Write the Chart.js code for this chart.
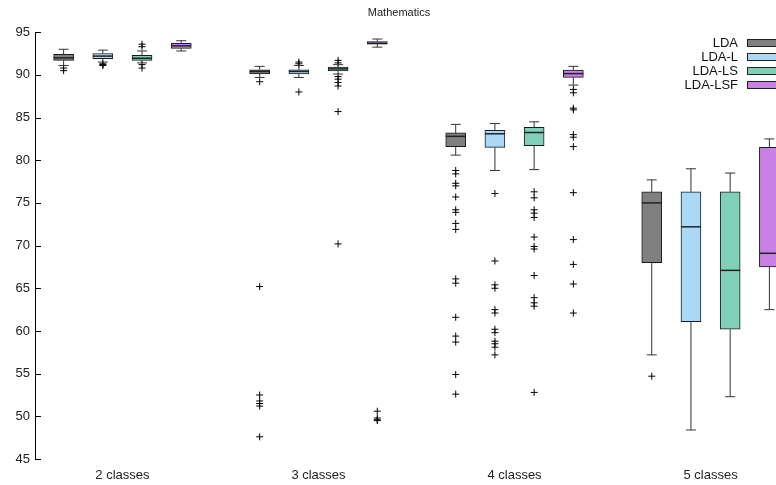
<!DOCTYPE html>
<html>
<head>
<meta charset="utf-8">
<script src="https://cdn.jsdelivr.net/npm/chart.js@4.4.1/dist/chart.umd.min.js"></script>
<style>
  html, body { margin: 0; padding: 0; background: #fff; overflow: hidden; }
  #wrap { width: 816px; height: 485px; }
</style>
</head>
<body>
<div id="wrap"><canvas id="boxChart" width="816" height="485"></canvas></div>
<script>
// categories and methods
const categories = ['2 classes', '3 classes', '4 classes', '5 classes'];
const methods = ['LDA', 'LDA-L', 'LDA-LS', 'LDA-LSF'];

// [low whisker, q1, median, q3, high whisker] for each category
const ldaBox    = [[91.1, 91.7, 92.0, 92.4, 93.0], [89.7, 90.1, 90.4, 90.6, 91.0], [80.6, 81.6, 82.8, 83.2, 84.2], [57.2, 68.0, 75.0, 76.3, 77.7]];
const ldaLBox   = [[91.5, 91.9, 92.2, 92.5, 92.9], [89.7, 90.1, 90.4, 90.6, 91.1], [78.8, 81.5, 83.1, 83.5, 84.3], [48.4, 61.1, 72.2, 76.3, 79.0]];
const ldaLSBox  = [[91.4, 91.7, 91.95, 92.3, 92.8], [90.1, 90.45, 90.7, 90.9, 91.2], [78.9, 81.7, 83.25, 83.85, 84.5], [52.3, 60.2, 67.1, 76.3, 78.5]];
const ldaLSFBox = [[92.8, 93.1, 93.4, 93.7, 94.0], [93.25, 93.6, 93.7, 93.9, 94.2], [88.8, 89.7, 90.15, 90.55, 91.0], [62.5, 67.5, 69.1, 81.5, 82.5]];

// outliers for each category
const ldaOut    = [[90.8, 90.5], [89.2, 65.2, 52.5, 51.8, 51.5, 51.2, 47.6], [78.8, 78.4, 77.3, 77.0, 75.7, 74.2, 73.9, 72.6, 71.9, 66.1, 65.6, 61.6, 59.4, 58.7, 54.9, 52.6], [54.7]];
const ldaLOut   = [[91.3, 91.2, 91.1], [91.5, 91.3, 88.0], [76.1, 68.2, 65.4, 65.0, 62.5, 62.1, 60.2, 59.8, 58.8, 58.5, 58.1, 57.2], []];
const ldaLSOut  = [[93.6, 93.3, 91.2, 90.8], [91.7, 91.4, 89.8, 89.5, 89.1, 88.7, 85.7, 70.2], [76.3, 75.6, 74.2, 73.8, 73.3, 71.0, 69.9, 69.6, 66.5, 63.9, 63.3, 62.9, 52.8], []];
const ldaLSFOut = [[], [50.6, 49.8, 49.6, 49.5], [88.3, 87.9, 86.1, 85.9, 83.0, 82.7, 81.6, 76.2, 70.7, 67.8, 65.5, 62.1], []];

const yTicks = [45, 50, 55, 60, 65, 70, 75, 80, 85, 90, 95];

const boxes = [ldaBox, ldaLBox, ldaLSBox, ldaLSFBox];
const outs = [ldaOut, ldaLOut, ldaLSOut, ldaLSFOut];
const colors = ['#808080', '#a9d9f4', '#80d0b8', '#c880e6'];
const offsets = [-0.3, -0.1, 0.1, 0.3];
const FONT = '"Liberation Sans", Arial, Helvetica, sans-serif';

const barSets = methods.map((m, k) => ({
  type: 'bar',
  label: m,
  data: boxes[k].map((b, i) => ({ x: i + 1 + offsets[k], y: [b[1], b[3]] })),
  backgroundColor: colors[k],
  borderColor: '#1a1a1a',
  borderWidth: 1,
  borderSkipped: false,
  barThickness: 20,
  grouped: false
}));

const outSets = methods.map((m, k) => ({
  type: 'scatter',
  label: m + ' outliers',
  data: outs[k].flatMap((list, i) => list.map(v => ({ x: i + 1 + offsets[k], y: v }))),
  pointStyle: 'cross',
  pointRadius: 3.5,
  borderColor: '#000',
  borderWidth: 1
}));

// whiskers, medians, inward y ticks and the legend
const boxExtras = {
  id: 'boxExtras',
  afterDatasetsDraw(chart) {
    const { ctx, scales: { x, y } } = chart;
    ctx.save();
    boxes.forEach((set, k) => {
      set.forEach((b, i) => {
        const px = x.getPixelForValue(i + 1 + offsets[k]);
        ctx.strokeStyle = '#333';
        ctx.lineWidth = 1;
        ctx.beginPath();
        ctx.moveTo(px, y.getPixelForValue(b[1]));
        ctx.lineTo(px, y.getPixelForValue(b[0]));
        ctx.moveTo(px, y.getPixelForValue(b[3]));
        ctx.lineTo(px, y.getPixelForValue(b[4]));
        ctx.moveTo(px - 5, y.getPixelForValue(b[0]));
        ctx.lineTo(px + 5, y.getPixelForValue(b[0]));
        ctx.moveTo(px - 5, y.getPixelForValue(b[4]));
        ctx.lineTo(px + 5, y.getPixelForValue(b[4]));
        ctx.stroke();
        ctx.strokeStyle = '#222';
        ctx.lineWidth = 1.5;
        ctx.beginPath();
        ctx.moveTo(px - 10, y.getPixelForValue(b[2]));
        ctx.lineTo(px + 10, y.getPixelForValue(b[2]));
        ctx.stroke();
      });
    });
    // inward tick marks
    ctx.strokeStyle = '#000';
    ctx.lineWidth = 1;
    ctx.beginPath();
    yTicks.forEach(t => {
      const py = Math.round(y.getPixelForValue(t)) + 0.5;
      ctx.moveTo(x.left, py);
      ctx.lineTo(x.left + 6, py);
    });
    ctx.stroke();
    // legend
    ctx.font = '13px ' + FONT;
    ctx.textAlign = 'right';
    ctx.textBaseline = 'middle';
    methods.forEach((m, k) => {
      const ly = 43 + k * 14;
      ctx.fillStyle = '#111';
      ctx.fillText(m, 738, ly);
      ctx.fillStyle = colors[k];
      ctx.fillRect(747, ly - 3, 60, 6);
      ctx.strokeStyle = '#222';
      ctx.strokeRect(747.5, ly - 3.5, 60, 7);
    });
    ctx.restore();
  }
};

new Chart(document.getElementById('boxChart'), {
  type: 'bar',
  data: { datasets: [...barSets, ...outSets] },
  options: {
    responsive: false,
    animation: false,
    layout: { padding: { left: 0, right: 18, top: 0, bottom: 0 } },
    plugins: {
      legend: { display: false },
      tooltip: { enabled: false },
      title: {
        display: true,
        text: 'Mathematics',
        color: '#222',
        font: { family: FONT, size: 11, weight: 'normal' },
        padding: { top: 6, bottom: 13 }
      }
    },
    scales: {
      x: {
        type: 'linear',
        offset: false,
        min: 0.554,
        max: 4.446,
        grid: { display: false, drawTicks: false, offset: false },
        border: { display: false },
        afterBuildTicks: s => { s.ticks = categories.map((c, i) => ({ value: i + 1 })); },
        afterFit: s => { s.height = 26; },
        ticks: {
          autoSkip: false,
          maxRotation: 0,
          padding: 9,
          color: '#222',
          font: { family: FONT, size: 13 },
          callback: v => categories[v - 1]
        }
      },
      y: {
        min: 45,
        max: 95,
        grid: { display: false, drawTicks: false },
        border: { display: true, color: '#000', width: 1 },
        afterBuildTicks: s => { s.ticks = yTicks.map(v => ({ value: v })); },
        afterFit: s => { s.width = 35; },
        ticks: {
          padding: 5,
          color: '#222',
          font: { family: FONT, size: 13 }
        }
      }
    }
  },
  plugins: [boxExtras]
});
</script>
</body>
</html>
